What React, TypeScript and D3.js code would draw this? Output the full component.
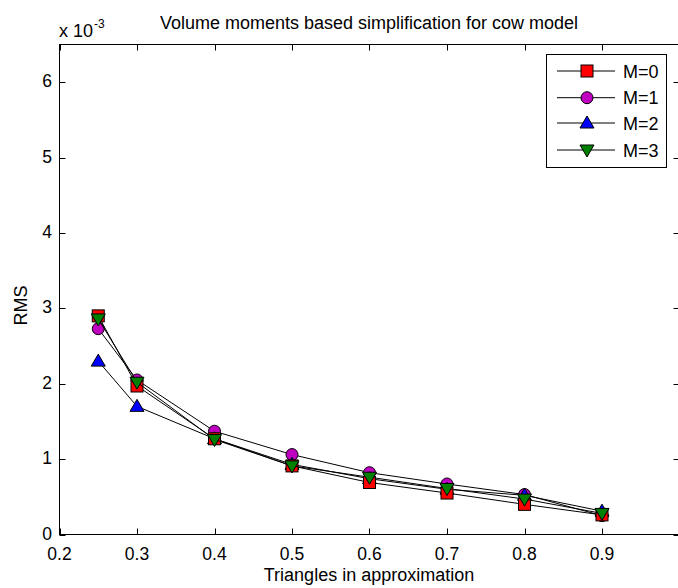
import React from "react";
import * as d3 from "d3";

const xValues = [0.25, 0.3, 0.4, 0.5, 0.6, 0.7, 0.8, 0.9];
const m0 = [2.9, 1.97, 1.27, 0.91, 0.69, 0.55, 0.4, 0.26];
const m1 = [2.73, 2.05, 1.37, 1.06, 0.82, 0.67, 0.53, 0.25];
const m2 = [2.3, 1.7, 1.27, 0.93, 0.74, 0.6, 0.52, 0.31];
const m3 = [2.86, 2.02, 1.26, 0.91, 0.76, 0.61, 0.47, 0.28];
const seriesNames = ["M=0", "M=1", "M=2", "M=3"];
const xTicks = [0.2, 0.3, 0.4, 0.5, 0.6, 0.7, 0.8, 0.9];
const yTicks = [0, 1, 2, 3, 4, 5, 6];

const W = 678;
const H = 588;
const L = 59.5, R = 679.5, T = 44.5, B = 534.5;
const FONT = "'Liberation Sans', Arial, sans-serif";
const FS = 18;
const TFS = 17.5;

const colors = ["#ff0000", "#c000c0", "#0000ff", "#008000"];
const shapes = ["square", "circle", "triUp", "triDown"];

function Marker({ shape, x, y, fill }: { shape: string; x: number; y: number; fill: string }) {
  const s = 6;
  if (shape === "square")
    return <rect x={x - s} y={y - s} width={2 * s} height={2 * s} fill={fill} stroke="#000" strokeWidth={1} />;
  if (shape === "circle") return <circle cx={x} cy={y} r={s} fill={fill} stroke="#000" strokeWidth={1} />;
  if (shape === "triUp")
    return (
      <path d={`M${x},${y - s - 1}L${x + s + 1},${y + s - 1}L${x - s - 1},${y + s - 1}Z`} fill={fill} stroke="#000" strokeWidth={1} />
    );
  return (
    <path d={`M${x},${y + s + 1}L${x + s + 1},${y - s + 1}L${x - s - 1},${y - s + 1}Z`} fill={fill} stroke="#000" strokeWidth={1} />
  );
}

export default function App() {
  const x = d3.scaleLinear().domain([0.2, 1.0]).range([L, R]);
  const y = d3.scaleLinear().domain([0, 6.5]).range([B, T]);
  const data = [m0, m1, m2, m3];
  const line = d3
    .line<number>()
    .x((_, i) => x(xValues[i]))
    .y((d) => y(d));
  const order = [1, 2, 0, 3];
  const legX0 = 557, legX1 = 615, legM = 587, legTx = 623;
  const legYs = [71, 97.7, 123, 150];

  return (
    <svg width={W} height={H} style={{ position: "absolute", left: 0, top: 0, background: "#fff" }} fontFamily={FONT}>
      <rect x={0} y={0} width={W} height={H} fill="#fff" />
      {/* axes box */}
      <rect x={L} y={T} width={R - L} height={B - T} fill="none" stroke="#000" strokeWidth={1} />
      {xTicks.map((t) => (
        <g key={"xt" + t}>
          <line x1={Math.round(x(t)) + 0.5} x2={Math.round(x(t)) + 0.5} y1={B} y2={B - 6} stroke="#000" />
          <line x1={Math.round(x(t)) + 0.5} x2={Math.round(x(t)) + 0.5} y1={T} y2={T + 6} stroke="#000" />
          <text x={x(t)} y={B + 25} fontSize={TFS} textAnchor="middle" fill="#000">
            {t.toFixed(1)}
          </text>
        </g>
      ))}
      {yTicks.map((t) => (
        <g key={"yt" + t}>
          <line x1={L} x2={L + 6} y1={Math.round(y(t)) + 0.5} y2={Math.round(y(t)) + 0.5} stroke="#000" />
          <line x1={R} x2={R - 6} y1={Math.round(y(t)) + 0.5} y2={Math.round(y(t)) + 0.5} stroke="#000" />
          <text x={52} y={y(t) + 5} fontSize={TFS} textAnchor="end" fill="#000">
            {t}
          </text>
        </g>
      ))}
      {/* series */}
      {order.map((si) => (
        <g key={"s" + si}>
          <path d={line(data[si]) || ""} fill="none" stroke="#000" strokeWidth={1} />
          {data[si].map((v, i) => (
            <Marker key={i} shape={shapes[si]} x={x(xValues[i])} y={y(v)} fill={colors[si]} />
          ))}
        </g>
      ))}
      {/* legend */}
      <rect x={546.5} y={54.5} width={120} height={113} fill="#fff" stroke="#000" strokeWidth={1} />
      {seriesNames.map((n, i) => (
        <g key={"lg" + i}>
          <line x1={legX0} x2={legX1} y1={legYs[i]} y2={legYs[i]} stroke="#000" />
          <Marker shape={shapes[i]} x={legM} y={legYs[i]} fill={colors[i]} />
          <text x={legTx} y={legYs[i] + 6.5} fontSize={FS} fill="#000">
            {n}
          </text>
        </g>
      ))}
      {/* labels */}
      <text x={369} y={29} fontSize={FS} textAnchor="middle" fill="#000">
        Volume moments based simplification for cow model
      </text>
      <text x={59} y={37} fontSize={FS} fill="#000">
        x 10
      </text>
      <text x={94} y={28} fontSize={12} fill="#000">
        -3
      </text>
      <text x={369} y={581} fontSize={FS} textAnchor="middle" fill="#000">
        Triangles in approximation
      </text>
      <text transform={`translate(27,${(T + B) / 2 + 16}) rotate(-90)`} fontSize={FS} textAnchor="middle" fill="#000">
        RMS
      </text>
    </svg>
  );
}
